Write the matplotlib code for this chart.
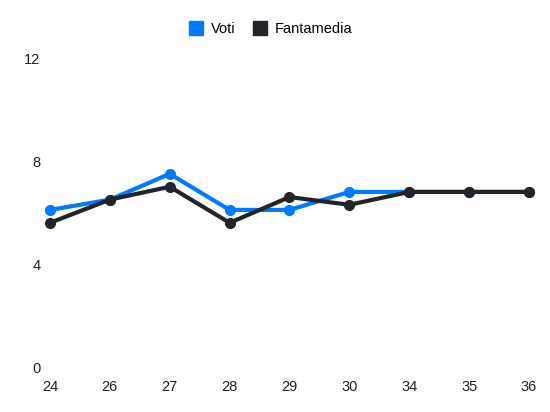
import matplotlib.pyplot as plt
from matplotlib.lines import Line2D

giornate = ["24", "26", "27", "28", "29", "30", "34", "35", "36"]
voti = [6.1, 6.5, 7.5, 6.1, 6.1, 6.8, 6.8, 6.8, 6.8]
fantamedia = [5.6, 6.5, 7.0, 5.6, 6.6, 6.3, 6.8, 6.8, 6.8]
y_ticks = [0, 4, 8, 12]

BLUE = "#007bff"
DARK = "#212529"

plt.rcParams["font.family"] = ["Liberation Sans", "DejaVu Sans"]

fig = plt.figure(figsize=(5.5, 4.12), dpi=100)
ax = fig.add_axes([0.0909, 0.1092, 0.8709, 0.75])

x = list(range(len(giornate)))
ax.plot(x, voti, color=BLUE, lw=3, marker="o", ms=7, clip_on=False, zorder=3)
ax.plot(x, fantamedia, color=DARK, lw=3, marker="o", ms=7, clip_on=False, zorder=4)

ax.set_xlim(0, len(giornate) - 1)
ax.set_ylim(0, 12)
ax.set_xticks(x)
ax.set_xticklabels(giornate)
ax.set_yticks(y_ticks)
ax.tick_params(length=0, labelsize=10.5, colors="#222222")
ax.tick_params(axis="y", pad=7)
ax.tick_params(axis="x", pad=9)
for s in ax.spines.values():
    s.set_visible(False)

handles = [
    Line2D([], [], color=BLUE, marker="s", ms=10, ls=""),
    Line2D([], [], color=DARK, marker="s", ms=10, ls=""),
]
fig.legend(handles, ["Voti", "Fantamedia"], loc="center", bbox_to_anchor=(0.492, 0.93),
           ncol=2, frameon=False, fontsize=10.5, handletextpad=0.5, columnspacing=1.2,
           handlelength=1.0)

fig.savefig("out.png", dpi=100)
